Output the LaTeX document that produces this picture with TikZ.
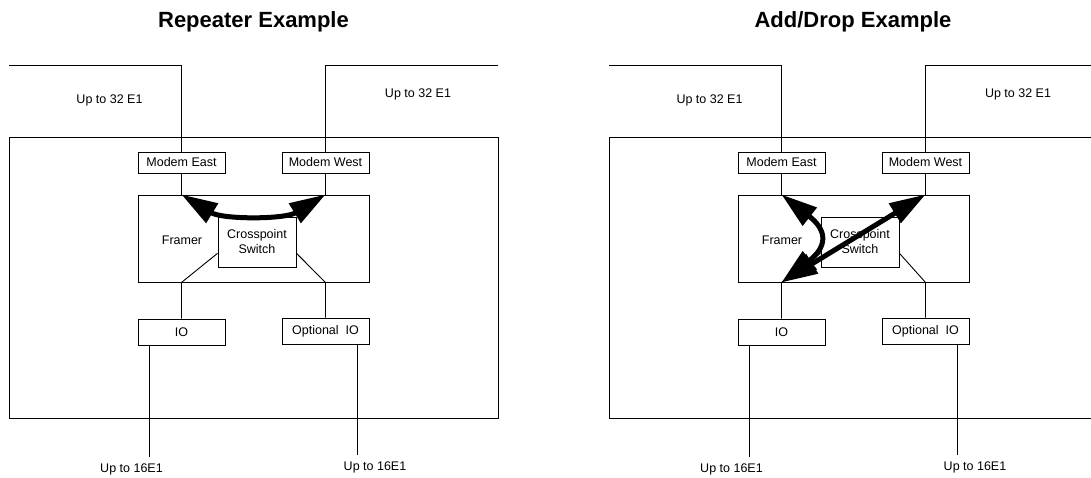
\documentclass[tikz,border=0pt]{standalone}
\usepackage{fontspec}
\setmainfont{Liberation Sans}
\usetikzlibrary{arrows.meta,positioning,calc}

\begin{document}
\begin{tikzpicture}[x=1pt, y=-1pt, line width=0.9pt,
    every node/.style={font=\fontsize{12.5}{15}\selectfont, inner sep=0pt},
    blk/.style={draw, minimum width=87pt, minimum height=21pt},
    iobox/.style={blk, minimum height=26pt},
    title/.style={font=\fontsize{22}{26}\selectfont\bfseries},
    flow/.style={line width=5pt, {Triangle[length=36pt,width=22pt]}-{Triangle[length=36pt,width=22pt]}}]
    \useasboundingbox (0,0) rectangle (1091,478);

    \node[title] (titleA) at (253.5,22) {Repeater Example};
    \node[title] (titleB) at (853,22) {Add/Drop Example};

    % same shelf drawn twice
    \foreach \dx/\s/\xc in {0/A/257, 600/B/260} {
    \begin{scope}[xshift=\dx pt]
        \node[draw, minimum width=489pt, minimum height=281pt] (shelf\s) at (253.5,277.5) {};
        \node[blk] (east\s) at (181.5,162.5) {Modem East};
        \node[blk] (west\s) at (325.5,162.5) {Modem West};
        \node[draw, minimum width=231pt, minimum height=87pt] (framer\s) at (253.5,238.5) {};
        \node (framerlbl\s) at (182,240) {Framer};
        \node[draw, minimum width=78pt, minimum height=50pt, align=center] (xs\s) at (\xc,242) {Crosspoint\\Switch};
        \node[iobox] (io\s) at (181.5,332) {IO};
        \node[iobox] (opt\s) at (325.5,331) {Optional~~IO};
        % line labels
        \node (inE\s) at (109.5,100) {Up to 32 E1};
        \node (inW\s) at (418,94) {Up to 32 E1};
        \node (outIO\s) at (131.5,469) {Up to 16E1};
        \node (outOpt\s) at (375,467) {Up to 16E1};
        \coordinate (tl\s) at (9,65);
        \coordinate (tr\s) at (498,65);
        \coordinate (bl\s) at (149,457);
        \coordinate (br\s) at (357,455);
        \coordinate (topE\s) at (east\s |- framer\s.north);
        \coordinate (topW\s) at (west\s |- framer\s.north);
        \coordinate (botIO\s) at (io\s |- framer\s.south);
        \coordinate (botOpt\s) at (opt\s |- framer\s.south);
        \draw (tl\s) -| (east\s);
        \draw (tr\s) -| (west\s);
        \draw (east\s) -- (topE\s);
        \draw (west\s) -- (topW\s);
        \draw (xs\s.196) -- (botIO\s) -- (io\s);
        \draw (xs\s.-16) -- (botOpt\s) -- (opt\s);
        \draw (bl\s |- io\s.south) -- (bl\s);
        \draw (br\s |- opt\s.south) -- (br\s);
    \end{scope}
    }

    % repeater: east <-> west
    \draw[flow] (topEA) .. controls ($(topEA)+(41,25)$) and ($(topWA)+(-41,25)$) .. (topWA);
    % add/drop: both modems to IO
    \draw[flow] (topEB) .. controls ($(topEB)+(46,36)$) and ($(botIOB)+(46,-36)$) .. (botIOB);
    \draw[flow] (topWB) -- (botIOB);
\end{tikzpicture}
\end{document}
